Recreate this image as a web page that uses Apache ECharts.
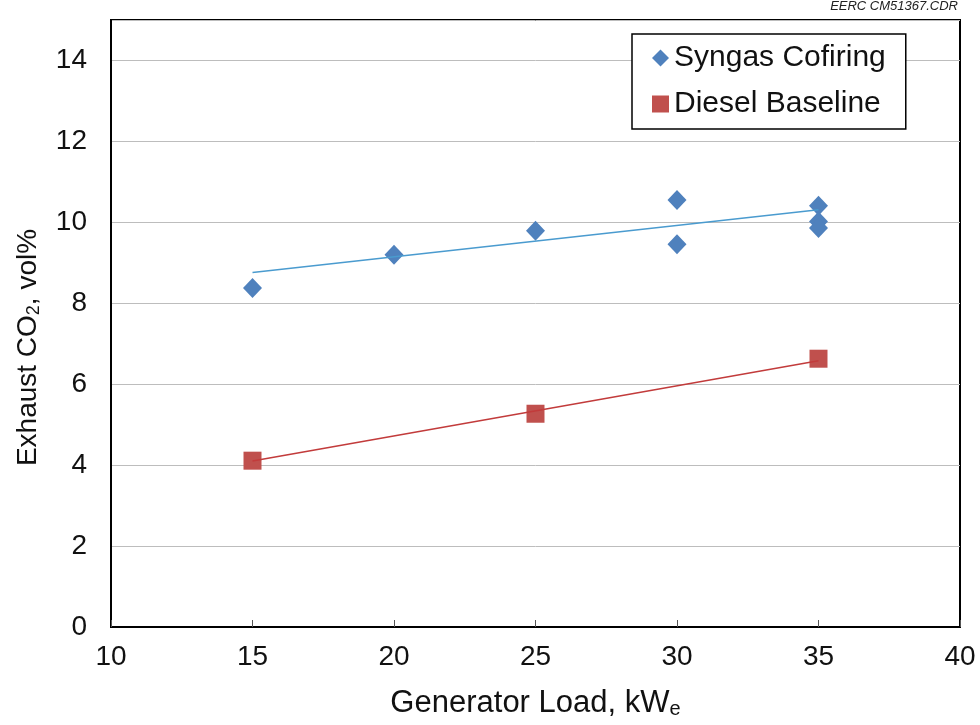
<!DOCTYPE html>
<html>
<head>
<meta charset="utf-8">
<title>Exhaust CO2 vs Generator Load</title>
<script src="https://cdn.jsdelivr.net/npm/echarts@6/dist/echarts.min.js"></script>
<style>
  html, body { margin: 0; padding: 0; background: #fff; }
  #chart { width: 980px; height: 725px; }
</style>
</head>
<body>
<div id="chart"></div>
<script>
// Measured exhaust CO2 (vol%) against generator load (kWe)
const syngasLoad = [15, 20, 25, 30, 30, 35, 35, 35];
const syngasCO2  = [8.38, 9.2, 9.79, 10.55, 9.46, 10.41, 10.02, 9.86];
const dieselLoad = [15, 25, 35];
const dieselCO2  = [4.11, 5.27, 6.63];

// linear trend lines: end points at the lowest and highest load
const trendLoad      = [15, 35];
const syngasTrendCO2 = [8.76, 10.31];
const dieselTrendCO2 = [4.10, 6.58];

const seriesNames = ['Syngas Cofiring', 'Diesel Baseline'];
const drawingTag = 'EERC CM51367.CDR';

const FONT = 'Liberation Sans, Arial, sans-serif';

const pairs = (xs, ys) => xs.map((x, i) => [x, ys[i]]);

const chart = echarts.init(document.getElementById('chart'));

chart.setOption({
  backgroundColor: '#fff',
  animation: false,
  textStyle: { fontFamily: FONT },
  grid: {
    left: 111, right: 20, top: 20, bottom: 98,
    show: true, borderColor: '#000', borderWidth: 2, backgroundColor: 'transparent'
  },
  legend: {
    data: [
      { name: seriesNames[0], icon: 'diamond' },
      { name: seriesNames[1], icon: 'rect' }
    ],
    orient: 'vertical',
    left: 632, top: 34,
    padding: [9, 20, 10, 20],
    itemGap: 16,
    itemWidth: 17, itemHeight: 17,
    borderColor: '#000', borderWidth: 1.5,
    backgroundColor: '#fff',
    textStyle: { fontFamily: FONT, fontSize: 30, color: '#111', lineHeight: 30 }
  },
  xAxis: {
    type: 'value',
    min: 10, max: 40, interval: 5,
    name: '{a|Generator Load, kW}{s|e}',
    nameLocation: 'middle',
    nameGap: 61,
    nameTextStyle: {
      rich: {
        a: { fontFamily: FONT, fontSize: 31, color: '#111' },
        s: { fontFamily: FONT, fontSize: 20, color: '#111', verticalAlign: 'bottom', padding: [10, 0, 0, 0] }
      }
    },
    axisLine: { lineStyle: { color: '#000', width: 2 } },
    axisTick: { show: true, inside: true, length: 7, lineStyle: { color: '#555', width: 1 } },
    axisLabel: { fontFamily: FONT, fontSize: 28, color: '#111', margin: 16 },
    splitLine: { show: false }
  },
  yAxis: {
    type: 'value',
    min: 0, max: 15, interval: 2,
    name: '{a|Exhaust CO}{s|2}{a|, vol%}',
    nameLocation: 'middle',
    nameGap: 68,
    nameRotate: 90,
    nameTextStyle: {
      padding: [0, 48, 0, 0],
      rich: {
        a: { fontFamily: FONT, fontSize: 28, color: '#111' },
        s: { fontFamily: FONT, fontSize: 18, color: '#111', padding: [12, 0, 0, 0] }
      }
    },
    axisLine: { lineStyle: { color: '#000', width: 2 } },
    axisTick: { show: false },
    axisLabel: {
      fontFamily: FONT, fontSize: 28, color: '#111', margin: 24,
      formatter: v => (v > 14 ? '' : String(v))
    },
    splitLine: { show: true, lineStyle: { color: '#bdbdbd', width: 1 } }
  },
  graphic: [{
    type: 'text',
    right: 22, top: 0,
    style: { text: drawingTag, font: 'italic 13px ' + FONT, fill: '#222' }
  }],
  series: [
    {
      name: seriesNames[0],
      type: 'scatter',
      symbol: 'diamond',
      symbolSize: [19, 20],
      itemStyle: { color: '#4F81BD', opacity: 1 },
      data: pairs(syngasLoad, syngasCO2),
      z: 2
    },
    {
      name: seriesNames[1],
      type: 'scatter',
      symbol: 'rect',
      symbolSize: 18,
      itemStyle: { color: '#C0504D', opacity: 1 },
      data: pairs(dieselLoad, dieselCO2),
      z: 2
    },
    {
      name: 'Syngas trend',
      type: 'line',
      data: pairs(trendLoad, syngasTrendCO2),
      symbol: 'none',
      lineStyle: { color: '#4A9BCF', width: 1.5 },
      silent: true,
      z: 3
    },
    {
      name: 'Diesel trend',
      type: 'line',
      data: pairs(trendLoad, dieselTrendCO2),
      symbol: 'none',
      lineStyle: { color: '#C23B3B', width: 1.5 },
      silent: true,
      z: 3
    }
  ]
});
</script>
</body>
</html>
